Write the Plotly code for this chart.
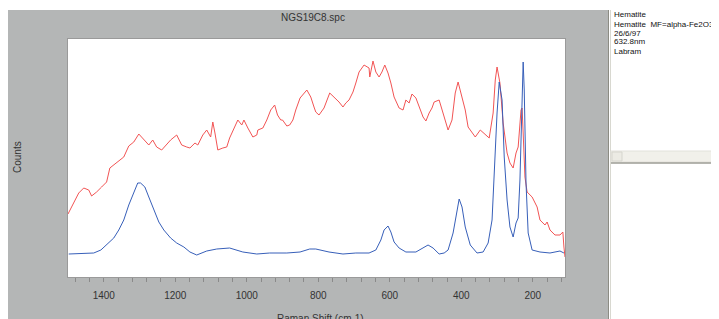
import plotly.graph_objects as go

# Red spectrum (upper) – Raman shift (cm-1), counts (arbitrary units)
red_shift = [1500, 1484, 1470, 1456, 1442, 1434, 1420, 1406, 1392, 1383, 1372, 1353, 1344, 1330,
             1316, 1302, 1288, 1274, 1263, 1252, 1238, 1224, 1213, 1196, 1182, 1168, 1159, 1145,
             1137, 1123, 1112, 1101, 1095, 1089, 1081, 1067, 1056, 1048, 1034, 1025, 1014, 1008,
             997, 983, 972, 969, 955, 944, 933, 922, 914, 905, 900, 888, 880, 871, 863, 851, 832,
             821, 812, 807, 798, 784, 768, 756, 742, 731, 723, 714, 703, 695, 686, 672, 658, 656,
             647, 639, 630, 622, 614, 605, 597, 588, 574, 563, 555, 546, 538, 527, 518, 507, 499,
             490, 482, 476, 462, 454, 448, 437, 426, 417, 409, 398, 389, 381, 370, 361, 347, 333,
             322, 311, 305, 300, 292, 283, 272, 264, 255, 247, 241, 233, 230, 227, 222, 216, 202,
             188, 180, 166, 160, 152, 138, 124, 116, 113, 110]
red_counts = [63, 74, 84, 89, 87, 81, 85, 90, 95, 109, 112, 117, 120, 131,
              135, 143, 137, 132, 137, 130, 127, 132, 137, 142, 132, 130, 129, 134,
              132, 142, 147, 140, 155, 144, 127, 129, 130, 139, 149, 157, 152, 157,
              149, 140, 142, 147, 149, 157, 167, 172, 162, 157, 157, 151, 152, 157, 167, 179, 187,
              180, 170, 165, 162, 169, 184, 180, 175, 170, 174, 177, 185, 194, 205, 212, 209, 200,
              216, 205, 200, 205, 212, 204, 194, 180, 169, 167, 177, 174, 183, 179, 170, 160, 156,
              164, 169, 175, 177, 167, 159, 147, 157, 184, 195, 180, 167, 150, 144, 140, 147, 142,
              139, 164, 197, 210, 194, 154, 124, 114, 109, 124, 130, 167, 169, 144, 100, 85, 80,
              70, 57, 52, 55, 47, 42, 42, 45, 30, 20]

# Blue spectrum (lower)
blue_shift = [1498, 1456, 1428, 1408, 1392, 1372, 1358, 1344, 1330, 1316, 1305, 1297, 1285, 1274,
              1260, 1246, 1232, 1213, 1196, 1176, 1159, 1140, 1112, 1084, 1048, 1011, 972, 936,
              888, 851, 824, 807, 770, 731, 695, 658, 639, 625, 616, 605, 597, 588, 574, 555, 527,
              507, 493, 479, 462, 448, 437, 423, 412, 406, 398, 389, 375, 356, 339, 325, 314, 308,
              300, 294, 286, 280, 272, 264, 255, 247, 241, 236, 230, 227, 224, 219, 213, 202, 180,
              152, 124, 113]
blue_counts = [23, 24, 24, 27, 32, 39, 47, 57, 72, 85, 94, 94, 90, 80,
               67, 55, 47, 39, 34, 30, 25, 22, 26, 28, 29, 25, 23, 24,
               24, 25, 28, 28, 25, 23, 24, 24, 27, 37, 47, 51, 45, 35, 29, 25, 25,
               29, 32, 29, 23, 24, 27, 44, 67, 78, 70, 50, 32, 24, 25, 34, 57, 104,
               164, 195, 177, 120, 77, 50, 40, 54, 59, 97, 170, 215, 187, 94, 44, 27, 25,
               24, 26, 24]

x_ticks = [1400, 1200, 1000, 800, 600, 400, 200]
title_text = "NGS19C8.spc"
x_title = "Raman Shift (cm-1)"
y_title = "Counts"
info_lines = ["Hematite", "Hematite  MF=alpha-Fe2O3  oxide", "26/6/97", "632.8nm", "Labram"]

# page body has an 8px default margin; figure is sized to fill the rest of the window
OFF = 8
WIN_W, WIN_H = 719, 319
W, H = WIN_W - OFF, WIN_H - OFF
L, R, T, B = 68, 565, 39, 277          # plot area in window pixels
pw, ph = R - L, B - T


def px(x):
    return (x - L) / pw


def py(y):
    return (B - y) / ph


FONT = "Arial, Liberation Sans, sans-serif"

fig = go.Figure()
fig.add_trace(go.Scatter(x=red_shift, y=red_counts, mode="lines",
                         line=dict(color="rgb(242,84,84)", width=1), hoverinfo="skip"))
fig.add_trace(go.Scatter(x=blue_shift, y=blue_counts, mode="lines",
                         line=dict(color="rgb(55,95,185)", width=1), hoverinfo="skip"))

shapes = [
    dict(type="rect", xref="paper", yref="paper", x0=px(8), x1=px(608), y0=py(330), y1=py(10),
         fillcolor="#b4b6b6", line=dict(width=0), layer="below"),
    dict(type="rect", xref="paper", yref="paper", x0=0, x1=1, y0=0, y1=1,
         fillcolor="white", line=dict(width=0), layer="below"),
    dict(type="line", xref="paper", yref="paper", x0=px(608.5), x1=px(608.5), y0=py(330), y1=py(10),
         line=dict(color="#8c8c84", width=1)),
    dict(type="line", xref="paper", yref="paper", x0=px(610.5), x1=px(610.5), y0=py(330), y1=py(10),
         line=dict(color="#d8d8d0", width=1)),
    dict(type="rect", xref="paper", yref="paper", x0=px(611), x1=px(725), y0=py(162), y1=py(151),
         fillcolor="#f1f0ea", line=dict(color="#e2e1da", width=1)),
    dict(type="rect", xref="paper", yref="paper", x0=px(612), x1=px(622), y0=py(161), y1=py(152),
         fillcolor="#ecebe4", line=dict(color="#d6d5ce", width=1)),
    dict(type="line", xref="paper", yref="paper", x0=px(611), x1=px(725), y0=py(163), y1=py(163),
         line=dict(color="#9c9c94", width=1.5)),
]

annotations = [
    dict(text=title_text, xref="paper", yref="paper", x=px(313), y=py(17), showarrow=False,
         xanchor="center", yanchor="middle", font=dict(family=FONT, size=10, color="#333")),
    dict(text=y_title, xref="paper", yref="paper", x=px(17), y=py(157), showarrow=False, textangle=-90,
         xanchor="center", yanchor="middle", font=dict(family=FONT, size=10, color="#333")),
    dict(text=x_title, xref="paper", yref="paper", x=px(320), y=py(311), showarrow=False,
         xanchor="center", yanchor="top", font=dict(family=FONT, size=10, color="#333")),
]
info_y = [15, 24, 33, 42, 51]
for line_text, yy in zip(info_lines, info_y):
    annotations.append(dict(text=line_text, xref="paper", yref="paper", x=px(612), y=py(yy),
                            showarrow=False, xanchor="left", yanchor="middle",
                            font=dict(family=FONT, size=8, color="#111")))

fig.update_layout(
    width=W, height=H,
    margin=dict(l=L - OFF, r=WIN_W - R, t=T - OFF, b=WIN_H - B, pad=0),
    paper_bgcolor="white", plot_bgcolor="white",
    showlegend=False,
    shapes=shapes, annotations=annotations,
    xaxis=dict(range=[1500, 110], tickvals=x_ticks, ticks="outside", ticklen=4, tickcolor="#8a8a8a",
               minor=dict(dtick=40, tick0=0, ticks="outside", ticklen=4, tickcolor="#8a8a8a"),
               showgrid=False, zeroline=False, showline=True, linecolor="#9a9a9a", linewidth=1, mirror=True,
               ticklabelstandoff=5,
               tickfont=dict(family=FONT, size=10, color="#333")),
    yaxis=dict(range=[0, 238], showticklabels=False, ticks="", showgrid=False, zeroline=False,
               showline=True, linecolor="#9a9a9a", linewidth=1, mirror=True),
)

fig.write_html("out.html", config=dict(displayModeBar=False))
